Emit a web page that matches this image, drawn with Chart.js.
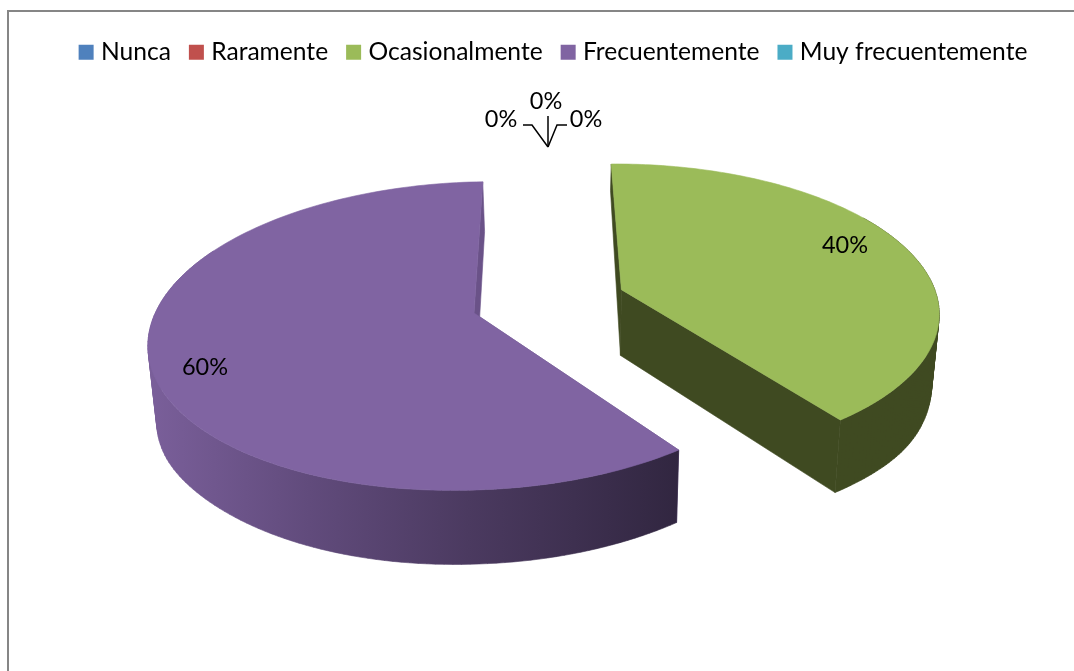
<!DOCTYPE html>
<html>
<head>
<meta charset="utf-8">
<title>Pie 3D</title>
<script src="https://cdn.jsdelivr.net/npm/chart.js@4"></script>
<style>
  html, body { margin: 0; padding: 0; background: #fff; overflow: hidden; }
  #frame { position: absolute; left: 7px; top: 10px; width: 1067px; height: 661px; box-sizing: border-box;
           border-top: 2px solid #868686; border-left: 2px solid #868686; }
  #c { position: absolute; left: 0; top: 0; }
</style>
</head>
<body>
<div id="frame"></div>
<canvas id="c" width="1074" height="671"></canvas>
<script>
var categories = ['Nunca', 'Raramente', 'Ocasionalmente', 'Frecuentemente', 'Muy frecuentemente'];
var values = [0, 0, 40, 60, 0];
var colors = ['#4f81bd', '#c0504d', '#9bbb59', '#8064a2', '#4bacc6'];

// look of the fake 3d pie
var view = {
  cx: 474, cy: 313,      // where the pie centre lands on the page
  radius: 320.5, squash: 150.6, persp: 0.149, perspX: 0.006,
  tiltLeft: 0.03, tiltRight: 0.022,
  explode: 0.49,
  labelFont: '23.5px Lato'
};
var labelPos = [[501, 119], [546, 101], [845, 245], [205, 367], [586, 119]];
var zeroLeaders = [
  [[523, 125], [532, 125], [548, 147]],
  [[548, 116], [548, 147]],
  [[567, 125], [557, 125], [548, 147]]
];

function project(u, v) {
  var w = 1 - view.persp * v + view.perspX * u;
  var x = view.radius * u / w;
  var tilt = x < 0 ? view.tiltLeft : view.tiltRight;
  return { x: view.cx + x, y: view.cy + view.squash * v / w - tilt * x };
}

// height of the wall, it gets shorter towards the back of the pie
function wallDepth(y) {
  if (y >= -25) {
    var d = (y - 50) / 50;
    return 66.1 + 0.045 * y + 6 * Math.exp(-d * d);
  }
  if (y >= -131) return 65 + 0.14 * (y + 25);
  return Math.max(50 + 1.3 * (y + 131), 0);
}

function lower(p) {
  var x = p.x - view.cx, y = p.y - view.cy;
  return { x: view.cx + 0.98 * x + 2, y: p.y + wallDepth(y) };
}

function slicePoints(arc, n) {
  var mid = (arc.startAngle + arc.endAngle) / 2;
  var ox = view.explode * Math.cos(mid), oy = view.explode * Math.sin(mid);
  if (arc.circumference > Math.PI) { ox = 0; oy = 0; }   // only the small slice is pulled out
  var rim = [], front = [];
  for (var i = 0; i <= n; i++) {
    var a = arc.startAngle + (arc.endAngle - arc.startAngle) * i / n;
    var p = project(ox + Math.cos(a), oy + Math.sin(a));
    rim.push(p);
    if (Math.sin(a) > -0.5) front.push(p);   // the back of the rim is never seen
  }
  return { apex: project(ox, oy), rim: rim, front: front };
}

function tracePoly(ctx, pts) {
  pts.forEach(function(p, i) { if (i) ctx.lineTo(p.x, p.y); else ctx.moveTo(p.x, p.y); });
  ctx.closePath();
}

function paint(ctx, fill) {
  ctx.fillStyle = fill;
  ctx.strokeStyle = fill;
  ctx.lineWidth = 0.6;
  ctx.fill();
  ctx.stroke();
}

function poly(ctx, pts, fill) {
  ctx.beginPath();
  tracePoly(ctx, pts);
  paint(ctx, fill);
}

// rim wall: all quads in one path, so no seams and no notch where the two curves cross
function wall(ctx, front, fill) {
  ctx.beginPath();
  for (var i = 0; i < front.length - 1; i++) {
    var q = [front[i], front[i + 1], lower(front[i + 1]), lower(front[i])];
    var area = 0;
    q.forEach(function(p, j) {
      var n = q[(j + 1) % 4];
      area += p.x * n.y - n.x * p.y;
    });
    tracePoly(ctx, area < 0 ? q.reverse() : q);
  }
  paint(ctx, fill);
}

var pie3d = {
  id: 'pie3d',
  beforeDatasetsDraw: function(chart) {
    var ctx = chart.ctx;
    var arcs = chart.getDatasetMeta(0).data;
    ctx.save();

    arcs.forEach(function(arc, idx) {
      if (!values[idx]) return;
      var s = slicePoints(arc, 160);
      var wallFill, cutFill;
      if (categories[idx] === 'Frecuentemente') {
        wallFill = ctx.createLinearGradient(150, 0, 680, 0);
        wallFill.addColorStop(0, '#7a5f9a');
        wallFill.addColorStop(0.3, '#614b7c');
        wallFill.addColorStop(0.6, '#4b3a60');
        wallFill.addColorStop(1, '#312640');
        cutFill = '#6a5288';
      } else {
        wallFill = '#3f4a21';
        cutFill = '#3f4a21';
      }
      var last = s.rim.length - 1;
      poly(ctx, [s.apex, s.rim[0], lower(s.rim[0]), lower(s.apex)], cutFill);
      poly(ctx, [s.apex, s.rim[last], lower(s.rim[last]), lower(s.apex)], cutFill);
      wall(ctx, s.front, wallFill);
      poly(ctx, [s.apex].concat(s.rim), colors[idx]);
    });

    // percent labels
    var total = values.reduce(function(a, b) { return a + b; }, 0);
    ctx.fillStyle = '#000';
    ctx.font = view.labelFont;
    ctx.textAlign = 'center';
    ctx.textBaseline = 'middle';
    arcs.forEach(function(arc, idx) {
      ctx.fillText(Math.round(values[idx] / total * 100) + '%', labelPos[idx][0], labelPos[idx][1]);
    });

    // leader lines of the empty slices
    ctx.strokeStyle = '#000';
    ctx.lineWidth = 1.5;
    zeroLeaders.forEach(function(line) {
      ctx.beginPath();
      line.forEach(function(p, i) { if (i) ctx.lineTo(p[0], p[1]); else ctx.moveTo(p[0], p[1]); });
      ctx.stroke();
    });

    ctx.restore();
    return false;
  }
};

new Chart(document.getElementById('c'), {
  type: 'pie',
  data: {
    labels: categories,
    datasets: [{ data: values, backgroundColor: colors, borderWidth: 0 }]
  },
  options: {
    responsive: false,
    animation: false,
    rotation: 1.8,
    layout: { padding: { top: 17, left: 37 } },
    plugins: {
      tooltip: { enabled: false },
      legend: {
        position: 'top',
        labels: {
          usePointStyle: true,
          pointStyle: 'rect',
          boxWidth: 5,       // narrow box so the text sits close to the square
          boxHeight: 15,
          padding: 23,
          color: '#000',
          font: { family: 'Lato', size: 24.6 }
        }
      }
    }
  },
  plugins: [pie3d]
});
</script>
</body>
</html>
